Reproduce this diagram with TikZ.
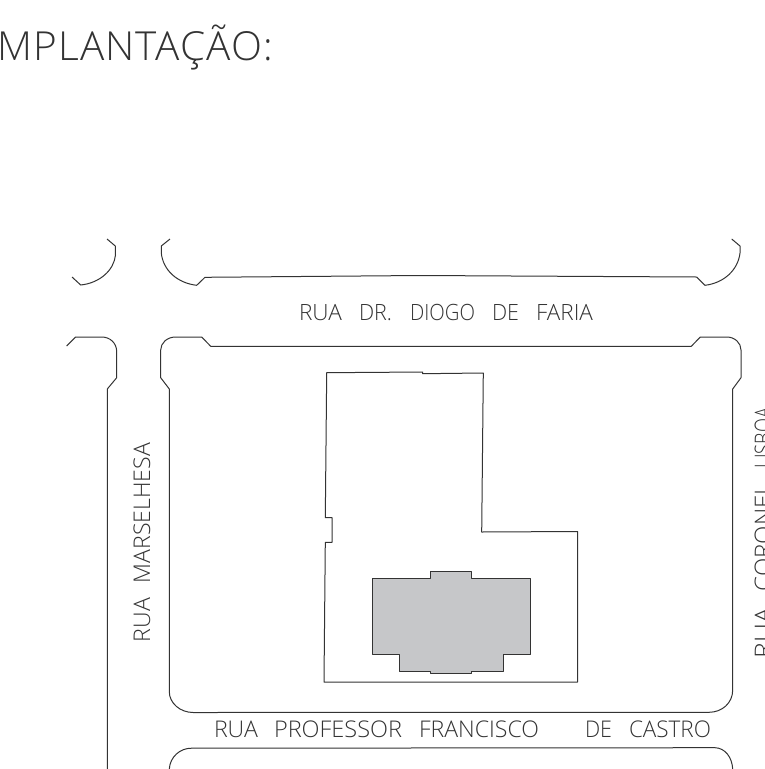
\documentclass[tikz,border=0pt]{standalone}
\usepackage{graphicx}
\usepackage{fontspec}
\setmainfont{Open Sans Light}
\definecolor{bldg}{HTML}{C6C7C9}
\definecolor{ink}{HTML}{333333}
\newcommand{\fitw}[2]{\resizebox{#1pt}{\height}{#2}}
\newcommand{\gp}[1]{\hspace{#1pt}}
\tikzset{
  outline/.style={draw=ink,line width=1pt,line join=round},
  lbl/.style={inner sep=0pt,outer sep=0pt,anchor=base west,text=ink},
  vlbl/.style={lbl,rotate=90},
}
\begin{document}
\begin{tikzpicture}[x=1pt,y=-1pt]
\useasboundingbox (0,0) rectangle (764,769);
\clip (0,0) rectangle (764,769);
% title
\node[lbl] (title) at (-3,60) {\fontsize{40}{40}\selectfont\addfontfeatures{LetterSpace=3}\fitw{276}{MPLANTAÇÃO:}};
% top-left block corner
\draw[outline] (107,239)--(115.3,246)--(115.5,255) .. controls (114,270) and (100,283) .. (80.7,285)--(72,277);
% top block
\draw[outline] (170,239)--(161.3,246)--(161.3,253) .. controls (163,270) and (177,283) .. (196.7,285.3)
  --(205,277.3)--(420,275.5)--(696.7,277)--(705,285.3) .. controls (724,283) and (738,270) .. (740,253)
  --(740,246)--(731.7,239);
% left block
\draw[outline] (66.7,346)--(75.7,337)--(101.7,337) .. controls (110,337) and (116.7,343) .. (116.7,351.7)
  --(116.7,377.7)--(107.3,389)--(107.3,769);
% main block
\draw[outline] (169.3,389)--(160.7,377.7)--(160.7,350) .. controls (160.7,343) and (167,337) .. (175.7,337)
  --(201.7,337)--(210.7,346.3)--(691.3,346.3)--(700.3,337)--(726.7,337)
  .. controls (735,337) and (741,343) .. (741,350)
  --(741,377.7)--(732.7,389)--(732.7,690) .. controls (732.7,703) and (722,712.3) .. (709,712.3)
  --(193.3,712.5) .. controls (180,712.5) and (169.3,703) .. (169.3,691.7)--cycle;
% bottom block
\draw[outline] (169.3,769) .. controls (170,757) and (180,748) .. (191.7,748.2)
  --(715,747.7) .. controls (725,748) and (732,757) .. (732.7,769);
% plot
\draw[outline] (326.7,372.7)--(422.7,372)--(422.7,373.7)--(483.3,373)--(481.7,532)--(577.5,531.5)
  --(577.5,682)--(324,682)--(325.3,542.3)--(332,542.3)--(332,517.7)--(325.3,517.7)--cycle;
% building
\draw[outline,fill=bldg] (372,578.7)--(430.7,578.7)--(430.7,571.7)--(471,571.7)--(471,578.7)--(530,578.7)
  --(530,654.3)--(503,654.3)--(503,671.7)--(471.7,671.7)--(471.7,673)--(430.3,673)--(430.3,671.7)
  --(399,671.7)--(399,654.3)--(372,654.3)--cycle;
% street names
\node[lbl] (diogo) at (299,320) {\fontsize{22.4}{22.4}\selectfont\fitw{43}{RUA}\gp{17}\fitw{33}{DR.}\gp{18}\fitw{65}{DIOGO}\gp{17}\fitw{27}{DE}\gp{17}\fitw{57}{FARIA}};
\node[lbl] (francisco) at (214,737) {\fontsize{23}{23}\selectfont\fitw{44}{RUA}\gp{16}\fitw{128}{PROFESSOR}\gp{17}\fitw{120}{FRANCISCO}\gp{46}\fitw{27}{DE}\gp{17}\fitw{82}{CASTRO}};
\node[vlbl] (marselhesa) at (150,642) {\fontsize{23}{23}\selectfont\fitw{44}{RUA}\gp{15}\fitw{140}{MARSELHESA}};
\node[vlbl] (lisboa) at (771.5,658) {\fontsize{23.5}{23.5}\selectfont\fitw{50}{RUA}\gp{17}\fitw{108}{CORONEL}\gp{15}\fitw{60}{LISBOA}};
\end{tikzpicture}
\end{document}
